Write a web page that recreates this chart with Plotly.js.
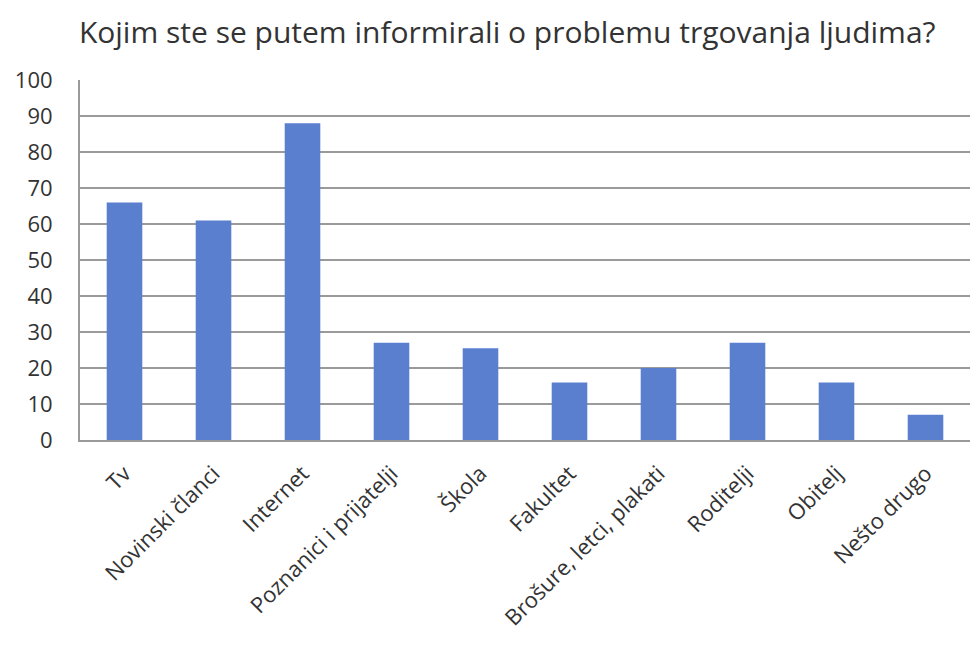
<!DOCTYPE html>
<html>
<head>
<meta charset="utf-8">
<script src="https://cdn.plot.ly/plotly-3.0.1.min.js"></script>
<style>html,body{margin:0;padding:0;background:#fff;}#chart{width:971px;height:645px;}</style>
</head>
<body>
<div id="chart"></div>
<script>
const categories = ["Tv", "Novinski članci", "Internet", "Poznanici i prijatelji", "Škola", "Fakultet", "Brošure, letci, plakati", "Roditelji", "Obitelj", "Nešto drugo"];
const values = [66, 61, 88, 27, 25.5, 16, 20, 27, 16, 7];
const yTicks = [0, 10, 20, 30, 40, 50, 60, 70, 80, 90, 100];
const chartTitle = "Kojim ste se putem informirali o problemu trgovanja ljudima?";

const font = "'Open Sans', 'Noto Sans', 'DejaVu Sans', sans-serif";

Plotly.newPlot("chart", [{
  type: "bar",
  x: categories,
  y: values,
  marker: {color: "#5b7fcf"},
  hoverinfo: "x+y"
}], {
  width: 971,
  height: 645,
  margin: {l: 80, r: 1, t: 80, b: 205},
  paper_bgcolor: "#ffffff",
  plot_bgcolor: "#ffffff",
  bargap: 0.6,
  showlegend: false,
  title: {
    text: chartTitle,
    xref: "paper",
    x: 0.48,
    xanchor: "center",
    y: 0.95,
    yanchor: "middle",
    font: {family: font, size: 30, color: "#333333"}
  },
  xaxis: {
    type: "category",
    tickangle: -45,
    tickfont: {family: font, size: 22, color: "#333333"},
    showline: true,
    linecolor: "#9a9a9a",
    linewidth: 2,
    ticks: "",
    showgrid: false,
    ticklabelstandoff: 10,
    automargin: false
  },
  yaxis: {
    range: [0, 100],
    tickvals: yTicks,
    ticktext: yTicks.map(String),
    tickfont: {family: font, size: 22, color: "#333333"},
    showline: true,
    linecolor: "#9a9a9a",
    linewidth: 2,
    showgrid: true,
    gridcolor: "#9a9a9a",
    gridwidth: 2,
    zeroline: false,
    ticks: "",
    ticklabelstandoff: 21,
    automargin: false
  }
}, {displayModeBar: false, staticPlot: true});
</script>
</body>
</html>
